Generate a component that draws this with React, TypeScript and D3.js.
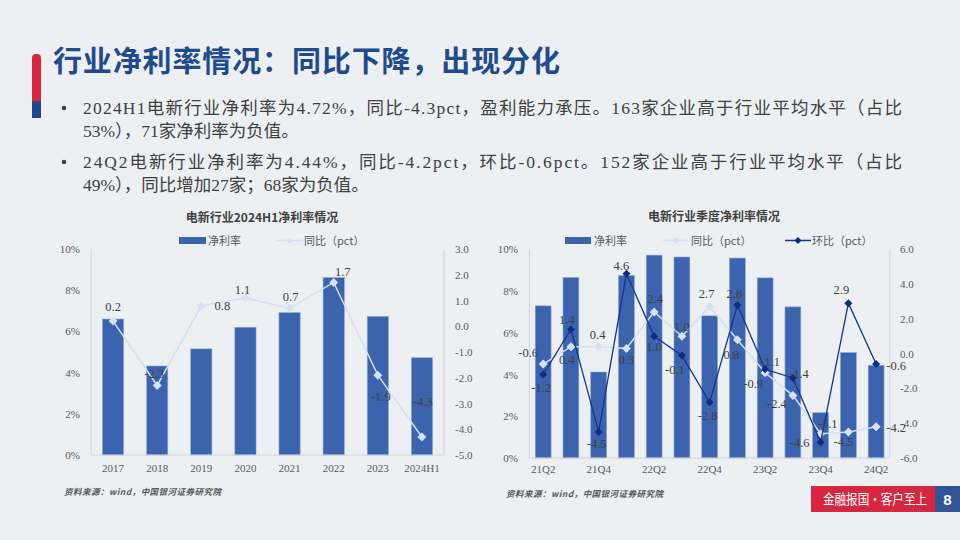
import React from "react";
import * as d3 from "d3";

// ---------- DATA ----------
const yearCats = ["2017", "2018", "2019", "2020", "2021", "2022", "2023", "2024H1"];
const yearMargin = [6.6, 4.32, 5.15, 6.2, 6.91, 8.61, 6.73, 4.72];
const yearYoy = [0.2, -2.3, 0.8, 1.1, 0.7, 1.7, -1.9, -4.3];

const qCats = ["21Q2", "21Q3", "21Q4", "22Q1", "22Q2", "22Q3", "22Q4", "23Q1", "23Q2", "23Q3", "23Q4", "24Q1", "24Q2"];
const qMargin = [7.29, 8.65, 4.12, 8.74, 9.72, 9.63, 6.81, 9.58, 8.63, 7.24, 2.17, 5.05, 4.44];
const qYoy = [-0.6, 0.4, 0.4, 0.3, 2.4, 1.0, 2.7, 0.8, -1.1, -2.4, -4.6, -4.5, -4.2];
const qQoq = [-1.2, 1.4, -4.5, 4.6, 1.0, -0.1, -2.8, 2.8, -0.9, -1.4, -5.1, 2.9, -0.6];
const qTickShown = ["21Q2", "21Q4", "22Q2", "22Q4", "23Q2", "23Q4", "24Q2"];

const leftPctTicks = [0, 2, 4, 6, 8, 10];
const leftRightTicks = [3, 2, 1, 0, -1, -2, -3, -4, -5];
const rightRightTicks = [6, 4, 2, 0, -2, -4, -6];

// label placement (pixel offsets from each marker)
const yearYoyLabelOffset: [number, number][] = [
  [0, -15], [-3, -12], [21, 0], [-3, -8], [1, -12], [9, -11], [3, 21], [1, -35],
];
const qYoyLabelOffset: [number, number][] = [
  [-15, -12], [-4, 13], [-1, -12], [0, 11], [1, -13], [0, -10], [-3, -13],
  [-6, 15], [5, -11], [-16, 8], [-21, 9], [-5, 10], [20, 1],
];
const qQoqLabelOffset: [number, number][] = [
  [-2, 13], [-4, -10], [-2, 12], [-5, -8], [0, 10], [-7, 14], [-2, 13],
  [-3, -11], [-12, 14], [6, -4], [7, -19], [-7, -14], [20, 1],
];

const bulletLines = [
  { text: "2024H1电新行业净利率为4.72%，同比-4.3pct，盈利能力承压。163家企业高于行业平均水平（占比", justify: true, bullet: true },
  { text: "53%），71家净利率为负值。", justify: false, bullet: false },
  { text: "24Q2电新行业净利率为4.44%，同比-4.2pct，环比-0.6pct。152家企业高于行业平均水平（占比", justify: true, bullet: true },
  { text: "49%），同比增加27家；68家为负值。", justify: false, bullet: false },
];

// ---------- STYLE ----------
const BG = "#edf0f2";
const BAR = "#3b63ae";
const BAR_EDGE = "#8aa4d4";
const LIGHT = "#d3dff2";
const LIGHT_M = "#d6e1f3";
const DARK = "#12368c";
const DARK_M = "#0d2d82";
const AXIS = "#cfd4da";
const TXT = "#404040";
const TICK = "#595959";
const SERIF = "'Liberation Serif', 'DejaVu Serif', 'Noto Sans CJK SC', serif";
const CJK = "'Noto Sans CJK SC', sans-serif";

const diamond = (cx: number, cy: number, r: number) =>
  `M${cx},${cy - r}L${cx + r},${cy}L${cx},${cy + r}L${cx - r},${cy}Z`;

function LeftChart() {
  const x0 = 91, x1 = 444, yTop = 249, yBot = 455;
  const x = d3.scaleBand().domain(yearCats).range([x0, x1]);
  const y = d3.scaleLinear().domain([0, 10]).range([yBot, yTop]);
  const y2 = d3.scaleLinear().domain([-5, 3]).range([yBot, yTop]);
  const bw = x.bandwidth() * 0.48;
  const cx = (c: string) => (x(c) as number) + x.bandwidth() / 2;
  const line = d3.line<number>().x((_, i) => cx(yearCats[i])).y((v) => y2(v));
  return (
    <g>
      <text x={262} y={222} textAnchor="middle" fontFamily={CJK} fontWeight={700} fontSize={12} fill={TXT}>电新行业2024H1净利率情况</text>
      <rect x={179} y={237} width={27} height={7} fill={BAR} />
      <text x={208} y={244.5} fontFamily={CJK} fontSize={11} fill={TICK}>净利率</text>
      <line x1={276} x2={303} y1={240.5} y2={240.5} stroke={LIGHT} strokeWidth={1.5} />
      <path d={diamond(289.5, 240.5, 3.5)} fill={LIGHT_M} />
      <text x={304} y={244.5} fontFamily={CJK} fontSize={11} fill={TICK}>同比（pct）</text>

      <line x1={x0} x2={x0} y1={yTop} y2={yBot} stroke={AXIS} />
      <line x1={x1} x2={x1} y1={yTop} y2={yBot} stroke={AXIS} />
      {leftPctTicks.map((t) => (
        <text key={t} x={80} y={y(t) + 4} textAnchor="end" fontFamily={SERIF} fontSize={11} fill={TICK}>{t}%</text>
      ))}
      {leftRightTicks.map((t) => (
        <text key={t} x={455} y={y2(t) + 4} fontFamily={SERIF} fontSize={11} fill={TICK}>{t.toFixed(1)}</text>
      ))}
      {yearCats.map((c, i) => (
        <rect key={c} x={cx(c) - bw / 2} y={y(yearMargin[i])} width={bw} height={yBot - y(yearMargin[i])} fill={BAR} stroke={BAR_EDGE} strokeWidth={0.6} />
      ))}
      <line x1={x0} x2={x1} y1={yBot} y2={yBot} stroke={AXIS} />
      {yearCats.map((c) => (
        <text key={c} x={cx(c)} y={472} textAnchor="middle" fontFamily={SERIF} fontSize={11} fill={TICK}>{c}</text>
      ))}
      <path d={line(yearYoy) || ""} fill="none" stroke={LIGHT} strokeWidth={1.5} />
      {yearYoy.map((v, i) => (
        <path key={i} d={diamond(cx(yearCats[i]), y2(v), 4.5)} fill={LIGHT_M} />
      ))}
      {yearYoy.map((v, i) => (
        <text key={i} x={cx(yearCats[i]) + yearYoyLabelOffset[i][0]} y={y2(v) + yearYoyLabelOffset[i][1] + 4.5} textAnchor="middle" fontFamily={SERIF} fontSize={12.5} fill={TXT}>{v.toFixed(1)}</text>
      ))}
      <text x={64} y={495} fontFamily={CJK} fontWeight={700} fontStyle="italic" fontSize={8.5} fill={TICK} textLength={157} lengthAdjust="spacing">资料来源：wind，中国银河证券研究院</text>
    </g>
  );
}

function RightChart() {
  const x0 = 529.3, x1 = 890, yTop = 249.3, yBot = 458;
  const x = d3.scaleBand().domain(qCats).range([x0, x1]);
  const y = d3.scaleLinear().domain([0, 10]).range([yBot, yTop]);
  const y2 = d3.scaleLinear().domain([-6, 6]).range([yBot, yTop]);
  const bw = x.bandwidth() * 0.57;
  const cx = (c: string) => (x(c) as number) + x.bandwidth() / 2;
  const line = d3.line<number>().x((_, i) => cx(qCats[i])).y((v) => y2(v));
  return (
    <g>
      <text x={714} y={221} textAnchor="middle" fontFamily={CJK} fontWeight={700} fontSize={12} fill={TXT}>电新行业季度净利率情况</text>
      <rect x={565} y={237} width={26} height={7} fill={BAR} />
      <text x={594} y={244.5} fontFamily={CJK} fontSize={11} fill={TICK}>净利率</text>
      <line x1={663} x2={689} y1={240.5} y2={240.5} stroke={LIGHT} strokeWidth={1.5} />
      <path d={diamond(676, 240.5, 3.5)} fill={LIGHT_M} />
      <text x={691} y={244.5} fontFamily={CJK} fontSize={11} fill={TICK}>同比（pct）</text>
      <line x1={785} x2={811} y1={240.5} y2={240.5} stroke={DARK} strokeWidth={1.5} />
      <path d={diamond(798, 240.5, 3.5)} fill={DARK_M} />
      <text x={812} y={244.5} fontFamily={CJK} fontSize={11} fill={TICK}>环比（pct）</text>

      <line x1={x0} x2={x0} y1={yTop} y2={yBot} stroke={AXIS} />
      <line x1={x1} x2={x1} y1={yTop} y2={yBot} stroke={AXIS} />
      {leftPctTicks.map((t) => (
        <text key={t} x={518} y={y(t) + 4} textAnchor="end" fontFamily={SERIF} fontSize={11} fill={TICK}>{t}%</text>
      ))}
      {rightRightTicks.map((t) => (
        <text key={t} x={900} y={y2(t) + 4} fontFamily={SERIF} fontSize={11} fill={TICK}>{t.toFixed(1)}</text>
      ))}
      {qCats.map((c, i) => (
        <rect key={c} x={cx(c) - bw / 2} y={y(qMargin[i])} width={bw} height={yBot - y(qMargin[i])} fill={BAR} stroke={BAR_EDGE} strokeWidth={0.6} />
      ))}
      <line x1={x0} x2={x1} y1={yBot} y2={yBot} stroke={AXIS} />
      {qTickShown.map((c) => (
        <text key={c} x={cx(c)} y={473} textAnchor="middle" fontFamily={SERIF} fontSize={11} fill={TICK}>{c}</text>
      ))}
      <path d={line(qYoy) || ""} fill="none" stroke={LIGHT} strokeWidth={1.5} />
      {qYoy.map((v, i) => (
        <path key={i} d={diamond(cx(qCats[i]), y2(v), 4.5)} fill={LIGHT_M} />
      ))}
      <path d={line(qQoq) || ""} fill="none" stroke={DARK} strokeWidth={1.3} />
      {qQoq.map((v, i) => (
        <path key={i} d={diamond(cx(qCats[i]), y2(v), 4)} fill={DARK_M} />
      ))}
      {qYoy.map((v, i) => (
        <text key={"a" + i} x={cx(qCats[i]) + qYoyLabelOffset[i][0]} y={y2(v) + qYoyLabelOffset[i][1] + 4.5} textAnchor="middle" fontFamily={SERIF} fontSize={12.5} fill={TXT}>{v.toFixed(1)}</text>
      ))}
      {qQoq.map((v, i) => (
        <text key={"b" + i} x={cx(qCats[i]) + qQoqLabelOffset[i][0]} y={y2(v) + qQoqLabelOffset[i][1] + 4.5} textAnchor="middle" fontFamily={SERIF} fontSize={12.5} fill={TXT}>{v.toFixed(1)}</text>
      ))}
      <text x={506} y={497} fontFamily={CJK} fontWeight={700} fontStyle="italic" fontSize={8.5} fill={TICK} textLength={157} lengthAdjust="spacing">资料来源：wind，中国银河证券研究院</text>
    </g>
  );
}

export default function App() {
  const lineY = [114, 137, 168, 191];
  return (
    <svg width={960} height={540} style={{ position: "absolute", left: 0, top: 0, background: BG }}>
      <rect x={0} y={0} width={960} height={540} fill={BG} />
      <path d="M32,58 Q32,54 36,54 L37,54 Q41,54 41,58 L41,101 L32,101 Z" fill="#d7263f" />
      <rect x={32} y={101} width={9} height={17} fill="#21478c" />
      <text x={53} y={72} fontFamily={CJK} fontWeight={700} fontSize={29} fill="#1f4a8c" textLength={507} lengthAdjust="spacing">行业净利率情况：同比下降，出现分化</text>

      {bulletLines.map((l, i) => (
        <g key={i}>
          {l.bullet && <circle cx={64} cy={lineY[i] - 6} r={2.3} fill={TXT} />}
          <text x={83} y={lineY[i]} fontFamily={SERIF} fontSize={17.5} fill={TXT}
            {...(l.justify ? { textLength: 819, lengthAdjust: "spacing" } : {})}>{l.text}</text>
        </g>
      ))}

      <LeftChart />
      <RightChart />

      <rect x={811} y={486} width={124} height={26} fill="#d7263f" />
      <text x={823} y={504} fontFamily={CJK} fontSize={14} fill="#ffffff" textLength={104} lengthAdjust="spacingAndGlyphs">金融报国·客户至上</text>
      <rect x={935} y={486} width={25} height={26} fill="#2f5597" />
      <text x={947.5} y={504.5} textAnchor="middle" fontFamily="'Liberation Sans', sans-serif" fontWeight={700} fontSize={15} fill="#ffffff">8</text>
    </svg>
  );
}
